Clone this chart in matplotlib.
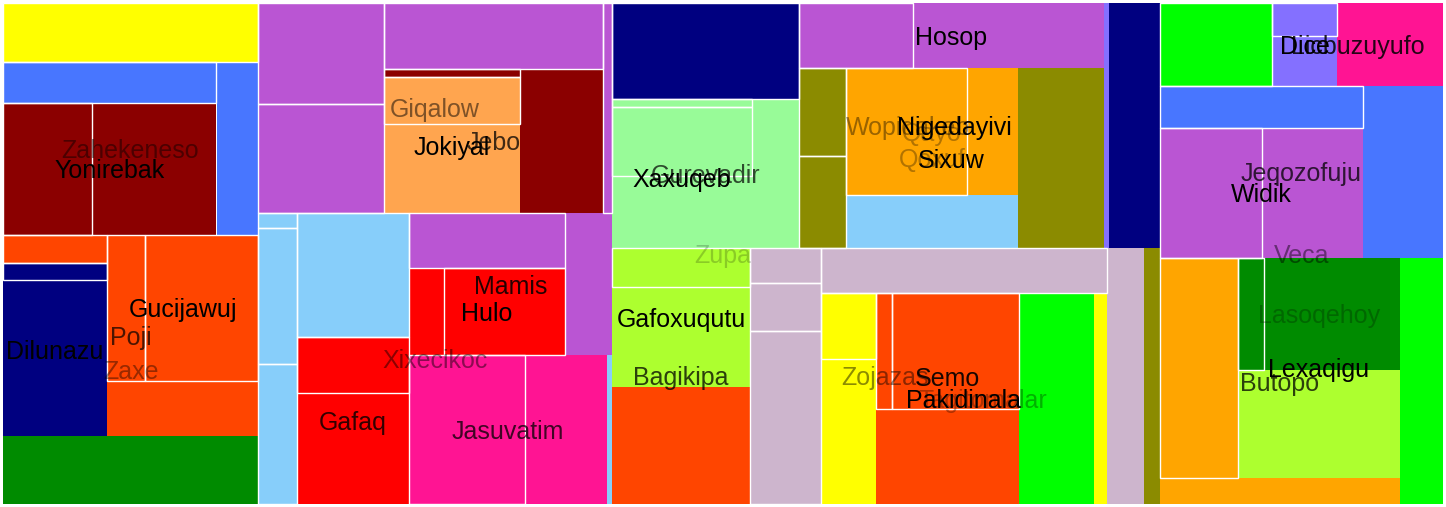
import numpy as np
import matplotlib.pyplot as plt

# leaf cells of the treemap: extents in layout units (x right, y down)
cell_x0 = [3, 3, 217, 3, 92, 3, 3, 3, 107, 145, 107, 3,
           258, 258, 384, 384, 384, 384, 520, 603, 258, 258, 258, 297, 297, 297,
           409, 409, 444, 565, 409, 525, 607,
           612, 612, 612, 752, 612, 799, 913, 799, 799, 846, 967, 846, 1018, 1104, 1109,
           612, 612, 612, 750, 750, 750, 821, 821, 821, 876, 892, 876, 1019, 1094, 1107, 1144,
           1160, 1272, 1272, 1337, 1160, 1363, 1160, 1262, 1160, 1238, 1264, 1238, 1160, 1400]
cell_x1 = [258, 216, 258, 92, 216, 107, 107, 107, 145, 258, 258, 258,
           384, 384, 603, 520, 520, 520, 603, 612, 297, 297, 297, 409, 409, 409,
           565, 444, 565, 612, 525, 607, 612,
           799, 752, 752, 799, 752, 913, 1104, 846, 846, 967, 1018, 1018, 1104, 1109, 1160,
           750, 750, 750, 821, 821, 821, 1107, 876, 876, 892, 1019, 1019, 1094, 1107, 1144, 1160,
           1272, 1337, 1337, 1443, 1363, 1443, 1262, 1363, 1238, 1264, 1400, 1400, 1400, 1443]
cell_y0 = [3, 62, 62, 103, 103, 235, 263, 280, 235, 235, 381, 436,
           3, 104, 3, 69, 77, 124, 69, 3, 213, 228, 364, 213, 337, 393,
           213, 268, 268, 213, 355, 355, 355,
           3, 99, 107, 99, 176, 3, 3, 68, 156, 68, 68, 195, 68, 3, 3,
           248, 287, 387, 248, 283, 331, 248, 293, 359, 293, 293, 409, 293, 293, 248, 248,
           3, 3, 36, 3, 86, 86, 128, 128, 258, 258, 258, 370, 478, 258]
cell_y1 = [62, 103, 235, 235, 235, 263, 280, 436, 381, 381, 436, 504,
           104, 213, 69, 77, 124, 213, 213, 213, 228, 364, 504, 337, 393, 504,
           268, 355, 355, 355, 504, 504, 504,
           99, 107, 176, 248, 248, 68, 68, 156, 248, 195, 195, 248, 248, 248, 248,
           287, 387, 504, 283, 331, 504, 293, 359, 504, 409, 409, 504, 504, 504, 504, 504,
           86, 36, 86, 86, 128, 258, 258, 258, 478, 370, 370, 478, 504, 504]
cell_color = ['#FFFF00', '#4876FF', '#4876FF', '#8B0000', '#8B0000', '#FF4500', '#000080', '#000080',
              '#FF4500', '#FF4500', '#FF4500', '#008B00',
              '#BA55D3', '#BA55D3', '#BA55D3', '#8B0000', '#FFA54F', '#FFA54F', '#8B0000', '#BA55D3',
              '#87CEFA', '#87CEFA', '#87CEFA', '#87CEFA', '#FF0000', '#FF0000',
              '#BA55D3', '#FF0000', '#FF0000', '#BA55D3', '#FF1493', '#FF1493', '#87CEFA',
              '#000080', '#98FB98', '#98FB98', '#98FB98', '#98FB98', '#BA55D3', '#BA55D3',
              '#8B8B00', '#8B8B00', '#FFA500', '#FFA500', '#87CEFA', '#8B8B00', '#8470FF', '#000080',
              '#ADFF2F', '#ADFF2F', '#FF4500', '#CDB5CD', '#CDB5CD', '#CDB5CD', '#CDB5CD',
              '#FFFF00', '#FFFF00', '#FF4500', '#FF4500', '#FF4500', '#00FF00', '#FFFF00', '#CDB5CD', '#8B8B00',
              '#00FF00', '#8470FF', '#8470FF', '#FF1493', '#4876FF', '#4876FF', '#BA55D3', '#BA55D3',
              '#FFA500', '#008B00', '#008B00', '#ADFF2F', '#FFA500', '#00FF00']
# cells drawn with a white outline
outlined = [0, 1, 3, 5, 6, 8, 9,
            12, 13, 14, 15, 16, 19, 20, 21, 22, 23, 24, 26, 28, 30,
            33, 34, 35, 38, 40, 41, 42,
            48, 51, 52, 53, 54, 55, 57, 58,
            64, 65, 68, 70, 72, 73]

# node labels, each centred on its node's extent
label_text = ['Zupa', 'Zahekeneso', 'Yonirebak', 'Zaxe', 'Poji', 'Gucijawuj', 'Dilunazu',
              'Giqalow', 'Jebo', 'Jokiyal', 'Xixecikoc', 'Mamis', 'Hulo', 'Gafaq', 'Jasuvatim',
              'Hosop', 'Wopidakeb', 'Qayo', 'Qoxuf', 'Nigedayivi', 'Sixuw', 'Gurevadir', 'Xaxuqeb',
              'Gafoxuqutu', 'Bagikipa', 'Zojazas', 'Semo', 'Tagitomalar', 'Pakidinala',
              'Licbuzuyufo', 'Dice', 'Jeqozofuju', 'Widik', 'Veca', 'Lasoqehoy', 'Lexaqigu', 'Butopo']
label_x0 = [3, 3, 3, 3, 3, 107, 3, 258, 384, 384, 258, 409, 409, 297, 409,
            799, 799, 846, 846, 799, 799, 612, 612, 612, 612, 750, 876, 821, 821,
            1272, 1272, 1160, 1160, 1160, 1238, 1238, 1160]
label_x1 = [1443, 258, 216, 258, 258, 258, 107, 612, 603, 520, 612, 612, 565, 409, 607,
            1104, 1018, 1018, 1018, 1109, 1104, 799, 752, 750, 750, 1019, 1019, 1144, 1107,
            1443, 1337, 1443, 1363, 1443, 1400, 1400, 1400]
label_y0 = [3, 62, 103, 235, 235, 235, 263, 3, 69, 77, 213, 213, 268, 337, 355,
            3, 3, 68, 68, 3, 68, 99, 107, 248, 248, 248, 248, 293, 293,
            3, 3, 86, 128, 3, 258, 258, 258]
label_y1 = [504, 235, 235, 504, 436, 381, 436, 213, 213, 213, 504, 355, 355, 504, 504,
            68, 248, 195, 248, 248, 248, 248, 248, 387, 504, 504, 504, 504, 504,
            86, 86, 258, 258, 504, 370, 478, 504]
label_alpha = [0.2, 0.45, 1.0, 0.4, 0.7, 1.0, 1.0, 0.5, 0.75, 1.0, 0.45, 0.85, 1.0, 0.8, 0.75,
               1.0, 0.4, 0.3, 0.3, 1.0, 1.0, 0.7, 1.0, 1.0, 0.75, 0.45, 0.9, 0.3, 1.0,
               0.85, 1.0, 0.75, 1.0, 0.45, 0.25, 1.0, 0.75]

plt.rcParams['font.family'] = ['Liberation Sans', 'DejaVu Sans']

fig = plt.figure(figsize=(14.46, 5.07), dpi=100)
ax = fig.add_axes([0, 0, 1, 1])

x0 = np.array(cell_x0, dtype=float)
x1 = np.array(cell_x1, dtype=float)
y0 = np.array(cell_y0, dtype=float)
y1 = np.array(cell_y1, dtype=float)

ax.bar(x0, y1 - y0, width=x1 - x0, bottom=y0, align='edge',
       color=cell_color, linewidth=0, zorder=1)
idx = np.array(outlined)
ax.bar(x0[idx], (y1 - y0)[idx], width=(x1 - x0)[idx], bottom=y0[idx], align='edge',
       fill=False, edgecolor='white', linewidth=1.0, zorder=2)

for t, a0, a1, b0, b1, al in zip(label_text, label_x0, label_x1, label_y0, label_y1, label_alpha):
    ax.text((a0 + a1) / 2, (b0 + b1) / 2, t, ha='center', va='center_baseline',
            fontsize=18, color='black', alpha=al, zorder=3)

ax.set_xlim(0, 1446)
ax.set_ylim(507, 0)
ax.axis('off')

fig.savefig('out.png', dpi=100)
